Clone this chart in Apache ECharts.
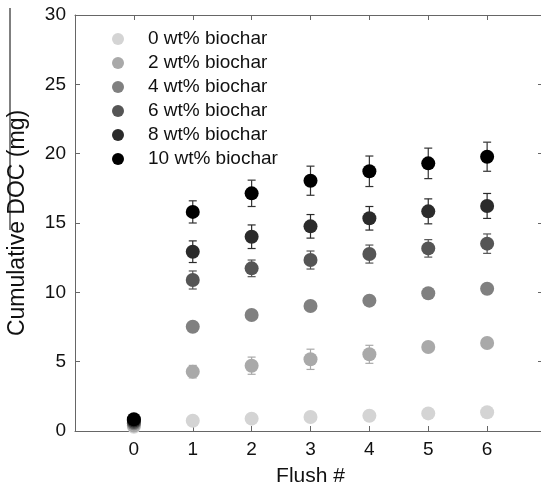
<!DOCTYPE html>
<html>
<head>
<meta charset="utf-8">
<script src="https://cdn.jsdelivr.net/npm/echarts@6/dist/echarts.min.js"></script>
<style>
html,body{margin:0;padding:0;background:#fff;}
#chart{width:541px;height:487px;}
</style>
</head>
<body>
<div id="chart"></div>
<script>
// flush number
var flush = [0, 1, 2, 3, 4, 5, 6];
var names = ['0 wt% biochar', '2 wt% biochar', '4 wt% biochar', '6 wt% biochar', '8 wt% biochar', '10 wt% biochar'];
var colors = ['#d4d4d4', '#a9a9a9', '#808080', '#555555', '#2b2b2b', '#000000'];

// cumulative DOC (mg)
var doc0 = [0.30, 0.74, 0.89, 1.01, 1.10, 1.27, 1.35];
var doc2 = [0.40, 4.28, 4.71, 5.17, 5.53, 6.06, 6.35];
var doc4 = [0.55, 7.52, 8.37, 9.01, 9.40, 9.93, 10.26];
var doc6 = [0.65, 10.89, 11.73, 12.33, 12.76, 13.17, 13.51];
var doc8 = [0.75, 12.93, 14.01, 14.76, 15.34, 15.84, 16.23];
var doc10 = [0.85, 15.80, 17.14, 18.05, 18.73, 19.30, 19.78];

// error (+/-)
var err0 = [0, 0.1, 0.1, 0.1, 0.1, 0.1, 0.1];
var err2 = [0, 0.45, 0.62, 0.73, 0.65, 0.2, 0.2];
var err4 = [0, 0.2, 0.2, 0.3, 0.3, 0.2, 0.2];
var err6 = [0, 0.65, 0.6, 0.65, 0.65, 0.63, 0.7];
var err8 = [0, 0.78, 0.85, 0.85, 0.85, 0.9, 0.9];
var err10 = [0.1, 0.8, 0.95, 1.05, 1.1, 1.1, 1.05];

var xTicks = ['0', '1', '2', '3', '4', '5', '6'];

var docs = [doc0, doc2, doc4, doc6, doc8, doc10];
var errs = [err0, err2, err4, err6, err8, err10];
var font = 'Liberation Sans, Arial, sans-serif';

var chart = echarts.init(document.getElementById('chart'));

function errBar(color){
	return function(params, api){
		var x = api.value(0), y = api.value(1), e = api.value(2);
		var hi = api.coord([x, y + e]);
		var lo = api.coord([x, y - e]);
		var w = 4;
		var st = {stroke: color, lineWidth: 1.2};
		return {type: 'group', children: [
			{type: 'line', shape: {x1: hi[0], y1: hi[1], x2: lo[0], y2: lo[1]}, style: st},
			{type: 'line', shape: {x1: hi[0] - w, y1: hi[1], x2: hi[0] + w, y2: hi[1]}, style: st},
			{type: 'line', shape: {x1: lo[0] - w, y1: lo[1], x2: lo[0] + w, y2: lo[1]}, style: st}
		]};
	};
}

var series = [];
for(var i = 0; i < names.length; i++){
	var ed = [], sd = [];
	for(var j = 0; j < flush.length; j++){
		ed.push([flush[j], docs[i][j], errs[i][j]]);
		sd.push([flush[j], docs[i][j]]);
	}
	series.push({
		name: 'err' + i,
		type: 'custom',
		renderItem: errBar(i == 5 ? '#333' : colors[i]),
		data: ed,
		z: 2 + i * 2,
		silent: true
	});
	series.push({
		name: names[i],
		type: 'scatter',
		symbol: 'circle',
		symbolSize: 14,
		itemStyle: {color: colors[i], opacity: 1},
		data: sd,
		z: 3 + i * 2
	});
}

var axisLine = {show: true, onZero: false, lineStyle: {color: '#666', width: 1}};
var tick = {show: true, inside: true, length: 5, lineStyle: {color: '#666'}};

chart.setOption({
	animation: false,
	backgroundColor: '#fff',
	grid: {left: 75, top: 15, width: 471, bottom: 56, show: false, outerBoundsMode: 'none', containLabel: false},
	legend: {
		orient: 'vertical',
		left: 107,
		top: 24,
		itemWidth: 50,
		itemHeight: 12,
		itemGap: 4,
		data: names,
		textStyle: {fontFamily: font, fontSize: 19, color: '#111', lineHeight: 20}
	},
	xAxis: [{
		type: 'value', min: -1, max: 7, interval: 1,
		name: 'Flush #', nameLocation: 'middle', nameGap: 35,
		nameTextStyle: {fontFamily: font, fontSize: 21, color: '#111'},
		axisLine: axisLine, axisTick: tick, splitLine: {show: false},
		axisLabel: {fontFamily: font, fontSize: 19, color: '#111', margin: 9,
			formatter: function(v){ return (v >= 0 && v <= 6) ? xTicks[v] : ''; }}
	}, {
		type: 'value', position: 'top', min: -1, max: 7, interval: 1,
		axisLine: axisLine, axisTick: tick, splitLine: {show: false},
		axisLabel: {show: false}
	}],
	yAxis: [{
		type: 'value', min: 0, max: 30, interval: 5,
		name: 'Cumulative DOC (mg)', nameLocation: 'middle', nameGap: 46,
		nameTextStyle: {fontFamily: font, fontSize: 23, color: '#111'},
		axisLine: axisLine, axisTick: tick, splitLine: {show: false},
		axisLabel: {fontFamily: font, fontSize: 19, color: '#111', margin: 9}
	}, {
		type: 'value', position: 'right', min: 0, max: 30, interval: 5,
		axisLine: {show: false, onZero: false},
		axisTick: {show: true, inside: true, length: 8, lineStyle: {color: '#666'}},
		splitLine: {show: false},
		axisLabel: {show: false}
	}],
	graphic: [{
		type: 'line', shape: {x1: 10, y1: 8, x2: 10, y2: 230},
		style: {stroke: '#000', lineWidth: 1}
	}],
	series: series
});
</script>
</body>
</html>
